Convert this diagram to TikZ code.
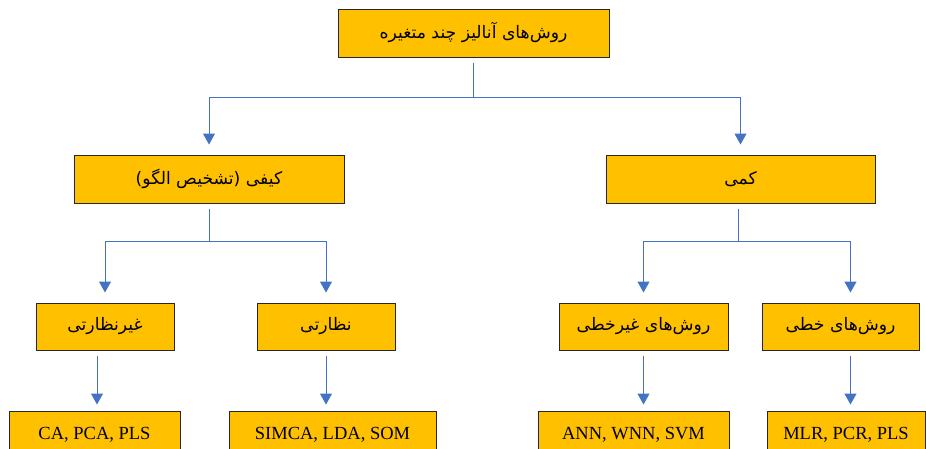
\documentclass[tikz,border=0pt]{standalone}
\usepackage{fontspec}
\setmainfont{Liberation Serif}
\newfontfamily\fafont[Script=Arabic]{DejaVu Sans}
\TeXXeTstate=1
\usetikzlibrary{arrows.meta}
\definecolor{boxfill}{HTML}{FFC000}
\definecolor{linkblue}{HTML}{4472C4}
\newcommand\fatxt[1]{{\fontsize{17.2}{20}\fafont\beginR #1\endR}}
\begin{document}
\begin{tikzpicture}[x=1pt,y=-1pt,
  box/.style={draw=black!85,line width=1pt,fill=boxfill,inner sep=0pt,
    minimum height=47pt,font=\fontsize{18.5}{20}\selectfont},
  link/.style={linkblue,line width=1pt,-{Triangle[width=12pt,length=11pt]},
    shorten <=5pt,shorten >=10pt}]
\useasboundingbox (0,0) rectangle (926,448);
\clip (0,0) rectangle (926,448);
%level 1
\node[box,minimum width=271pt,minimum height=48pt] (top) at (473.5,33) {\fatxt{روش‌های آنالیز چند متغیره}};
%level 2
\node[box,minimum width=270pt,minimum height=48pt] (kifi) at (209,179) {\fatxt{کیفی (تشخیص الگو)}};
\node[box,minimum width=269pt,minimum height=48pt] (kami) at (740.5,179) {\fatxt{کمی}};
%level 3
\node[box,minimum width=138pt] (gnez) at (105,326.5) {\fatxt{غیرنظارتی}};
\node[box,minimum width=138pt] (nez) at (326,326.5) {\fatxt{نظارتی}};
\node[box,minimum width=169pt] (gkhat) at (643.5,326.5) {\fatxt{روش‌های غیرخطی}};
\node[box,minimum width=157pt] (khat) at (840.5,326.5) {\fatxt{روش‌های خطی}};
%level 4
\node[box,minimum width=171pt,minimum height=48pt] (ca) at (94.5,435) {CA, PCA, PLS};
\node[box,minimum width=207pt,minimum height=48pt] (simca) at (332.5,435) {SIMCA, LDA, SOM};
\node[box,minimum width=191pt,minimum height=48pt] (ann) at (633.5,435) {ANN, WNN, SVM};
\node[box,minimum width=158pt,minimum height=48pt] (mlr) at (846,435) {MLR, PCR, PLS};
%split points
\coordinate (s0) at (473.5,97);
\coordinate (s1) at (209,241);
\coordinate (s2) at (738,241);
\draw[link] (top) -- (s0) -| (kifi);
\draw[link] (top) -- (s0) -| (kami);
\draw[link] (kifi) -- (s1) -| (gnez);
\draw[link] (kifi) -- (s1) -| (nez);
\draw[link] (kami.south -| s2) -- (s2) -| (gkhat);
\draw[link] (kami.south -| s2) -- (s2) -| ([xshift=10pt]khat.north);
\draw[link,shorten >=6pt] ([xshift=-8pt]gnez.south) -- ([xshift=-8pt]gnez.south |- ca.north);
\draw[link,shorten >=6pt] (nez.south) -- (nez.south |- simca.north);
\draw[link,shorten >=6pt] (gkhat.south) -- (gkhat.south |- ann.north);
\draw[link,shorten >=6pt] ([xshift=10pt]khat.south) -- ([xshift=10pt]khat.south |- mlr.north);
\end{tikzpicture}
\end{document}
